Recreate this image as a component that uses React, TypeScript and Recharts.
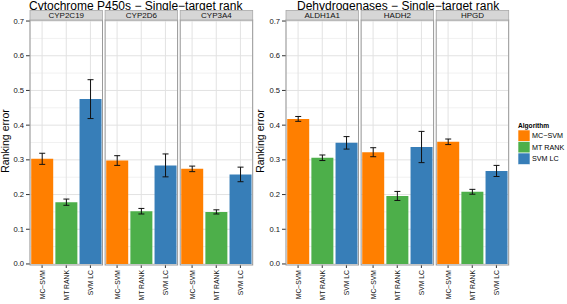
import { BarChart, Bar, Cell, XAxis, YAxis, CartesianGrid, ErrorBar } from 'recharts'

const ALGORITHMS = ['MC−SVM', 'MT RANK', 'SVM LC']
const COLORS = ['#FF7F00', '#4DAF4A', '#377EB8']
const Y_TICKS = [0, 0.1, 0.2, 0.3, 0.4, 0.5, 0.6, 0.7]
const Y_MINOR = [0.05, 0.15, 0.25, 0.35, 0.45, 0.55, 0.65]

// Cytochrome P450s
const CYP2C19 = [0.303, 0.178, 0.475]
const CYP2C19_ERR = [0.016, 0.009, 0.056]
const CYP2D6 = [0.298, 0.152, 0.284]
const CYP2D6_ERR = [0.014, 0.008, 0.033]
const CYP3A4 = [0.274, 0.15, 0.258]
const CYP3A4_ERR = [0.008, 0.006, 0.021]

// Dehydrogenases
const ALDH1A1 = [0.418, 0.306, 0.349]
const ALDH1A1_ERR = [0.007, 0.008, 0.018]
const HADH2 = [0.322, 0.196, 0.337]
const HADH2_ERR = [0.013, 0.013, 0.045]
const HPGD = [0.352, 0.208, 0.268]
const HPGD_ERR = [0.008, 0.007, 0.016]

const FONT = '"Liberation Sans", Arial, Helvetica, sans-serif'
const PLOT_TOP = 20
const PLOT_H = 245
const PAD_TOP = 6
const FACET_W = 72.5
const FACET_STEP = 75.1
const AXIS_W = 30
const X_AXIS_H = 36

const PANELS = [
  {
    title: 'Cytochrome P450s − Single−target rank',
    titleX: 29,
    left: 30,
    axisTitleX: 9,
    facets: [
      { name: 'CYP2C19', values: CYP2C19, errs: CYP2C19_ERR },
      { name: 'CYP2D6', values: CYP2D6, errs: CYP2D6_ERR },
      { name: 'CYP3A4', values: CYP3A4, errs: CYP3A4_ERR },
    ],
  },
  {
    title: 'Dehydrogenases − Single−target rank',
    titleX: 297,
    left: 286,
    axisTitleX: 264,
    facets: [
      { name: 'ALDH1A1', values: ALDH1A1, errs: ALDH1A1_ERR },
      { name: 'HADH2', values: HADH2, errs: HADH2_ERR },
      { name: 'HPGD', values: HPGD, errs: HPGD_ERR },
    ],
  },
]

function XTick({ x, y, payload }: any) {
  return (
    <text x={x} y={y + 1} transform={`rotate(-90, ${x}, ${y + 1})`} textAnchor="end"
      dominantBaseline="central" fontSize={6.8} fill="#111" fontFamily={FONT}>
      {payload.value}
    </text>
  )
}

function YTick({ x, y, payload }: any) {
  return (
    <text x={x} y={y} textAnchor="end" dominantBaseline="central"
      fontSize={7.6} fill="#111" fontFamily={FONT}>
      {payload.value.toFixed(1)}
    </text>
  )
}

function Facet({ values, errs, left, showAxis }: any) {
  const data = ALGORITHMS.map((algo, i) => ({ algo, value: values[i], err: errs[i] }))
  const offset = showAxis ? AXIS_W : 0
  return (
    <div style={{ position: 'absolute', left: left - offset, top: PLOT_TOP - PAD_TOP }}>
      <BarChart width={FACET_W + offset} height={PLOT_H + X_AXIS_H + PAD_TOP} data={data}
        margin={{ top: PAD_TOP, right: 0, bottom: 0, left: 0 }} barCategoryGap="5%">
        <CartesianGrid horizontalValues={Y_MINOR} vertical={false} stroke="#f1f1f1" />
        <CartesianGrid horizontalValues={Y_TICKS} stroke="#e2e2e2" />
        <XAxis dataKey="algo" height={X_AXIS_H} tick={<XTick />} interval={0}
          tickSize={3} tickMargin={1} axisLine={false} tickLine={{ stroke: '#333' }} />
        <YAxis hide={!showAxis} width={AXIS_W} type="number" domain={[-0.003, 0.703]}
          allowDataOverflow ticks={Y_TICKS} interval={0} tick={<YTick />}
          tickSize={4} tickMargin={2} axisLine={false} tickLine={{ stroke: '#333' }} />
        <Bar dataKey="value" isAnimationActive={false}>
          {data.map((d, i) => <Cell key={d.algo} fill={COLORS[i]} />)}
          <ErrorBar dataKey="err" width={3} stroke="#111" strokeWidth={1} />
        </Bar>
      </BarChart>
    </div>
  )
}

export default function App() {
  return (
    <div style={{ position: 'absolute', left: 0, top: 0, width: 567, height: 304,
      background: '#fff', fontFamily: FONT, overflow: 'hidden' }}>
      {PANELS.map(p => p.facets.map((f, i) => (
        <Facet key={f.name} values={f.values} errs={f.errs}
          left={p.left + i * FACET_STEP} showAxis={i === 0} />
      )))}
      <svg width={567} height={304} style={{ position: 'absolute', left: 0, top: 0, pointerEvents: 'none' }}
        fontFamily={FONT}>
        {PANELS.map(p => (
          <g key={p.title}>
            <text x={p.titleX} y={9.8} fontSize={12} fill="#000">{p.title}</text>
            <text transform="rotate(-90)" x={-141} y={p.axisTitleX} fontSize={10.5}
              textAnchor="middle" fill="#000">Ranking error</text>
            {p.facets.map((f, i) => {
              const x = p.left + i * FACET_STEP
              return (
                <g key={f.name}>
                  <rect x={x} y={PLOT_TOP} width={FACET_W} height={PLOT_H} fill="none" stroke="#999" strokeWidth={1} />
                  <rect x={x} y={10.5} width={FACET_W} height={9.5} fill="#d6d6d6" stroke="#a8a8a8" strokeWidth={0.8} />
                  <text x={x + FACET_W / 2} y={18.4} fontSize={8} textAnchor="middle" fill="#111">{f.name}</text>
                </g>
              )
            })}
          </g>
        ))}
        <text x={518} y={128} fontSize={6.6} fontWeight="bold" fill="#000">Algorithm</text>
        {ALGORITHMS.map((a, i) => (
          <g key={a}>
            <rect x={518} y={130 + i * 11.5} width={12} height={11.5} fill={COLORS[i]} stroke="#fff" strokeWidth={0.6} />
            <text x={532} y={130 + i * 11.5 + 5.9} fontSize={7.2} dominantBaseline="central" fill="#000">{a}</text>
          </g>
        ))}
      </svg>
    </div>
  )
}
